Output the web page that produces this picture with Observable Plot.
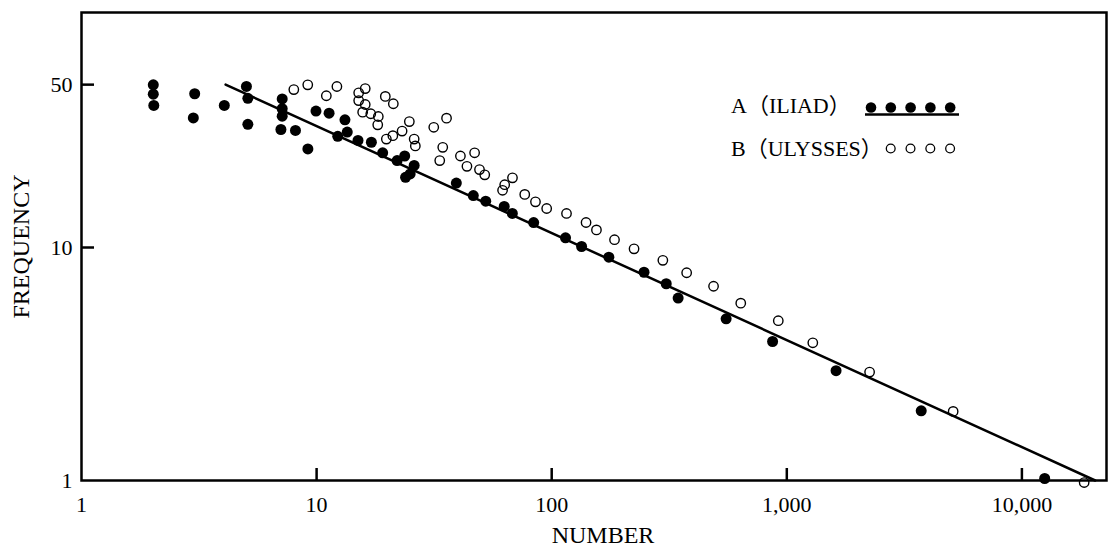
<!DOCTYPE html>
<html>
<head>
<meta charset="utf-8">
<script src="https://cdn.jsdelivr.net/npm/d3@7"></script>
<script src="https://cdn.jsdelivr.net/npm/@observablehq/plot@0.6"></script>
<style>
  html, body { margin: 0; padding: 0; background: #fff; }
  #wrap { position: relative; width: 1119px; height: 549px; }
  #wrap svg { display: block; }
  #legend { position: absolute; left: 0; top: 0; pointer-events: none; }
</style>
</head>
<body>
<div id="wrap"></div>
<script>
// ---- data ----
const iliadNumber = [2.02,2.02,2.03,3.03,2.99,4.05,5.03,5.1,5.1,7.14,7.14,7.14,7.05,8.13,9.18,9.94,11.3,13.2,12.3,13.5,15,17.1,19.1,22,23.7,26,23.9,25,39.3,46.4,52.4,62.8,68,83.8,114.5,134,175,247,307,345,552,870,1620,3730,12500];
const iliadFrequency = [49.9,45.5,40.7,45.7,36,40.7,49.1,43.7,33.8,43.4,39.4,36.6,32.1,31.8,26.5,38.5,37.7,35.3,30,31.3,28.8,28.3,25.5,23.6,24.7,22.5,20,20.7,18.9,16.7,15.8,15,14,12.8,11,10.1,9.09,7.83,6.99,6.07,4.94,3.95,2.96,1.99,1.02];

const ulyssesNumber = [8,9.17,11,12.2,15.1,16.1,15.1,16.1,15.7,17,18.3,18.2,19.6,21.2,19.8,21.1,23.1,24.8,26,26.3,31.5,35.7,34.4,33.4,40.9,47,43.6,49.3,51.9,68.1,63.1,61.8,76.8,85.3,95.2,115.6,140,155,185,224,297,375,488,637,920,1290,2250,5100,18400];
const ulyssesFrequency = [47.6,49.9,44.8,49.1,46.1,48.1,42.7,41.1,38.1,37.5,36.5,33.6,44.5,41.4,29.2,30.2,31.6,34.7,29.2,27.3,32.8,35.9,26.9,23.6,24.7,25.5,22.3,21.6,20.5,19.9,18.6,17.6,16.9,15.7,14.7,14,12.8,11.9,10.8,9.87,8.81,7.79,6.82,5.77,4.85,3.9,2.92,1.98,0.98];

const fitNumber = [4.1, 20500];
const fitFrequency = [50, 1];

const xTicks = [1, 10, 100, 1000, 10000];
const yTicks = [1, 10, 50];
const xTickMarks = [10, 100, 1000, 10000];
const yTickMarks = [10, 50];
const xDomain = [1, 22900];
const yDomain = [1, 102];

const legendLabels = ["A（ILIAD）", "B（ULYSSES）"];

// ---- tables ----
const iliad = iliadNumber.map((n, i) => ({n, f: iliadFrequency[i]}));
const ulysses = ulyssesNumber.map((n, i) => ({n, f: ulyssesFrequency[i]}));
const fit = fitNumber.map((n, i) => ({n, f: fitFrequency[i]}));

const FONT = "'Liberation Serif', 'Noto Sans CJK SC', serif";

const W = 1119, H = 549;
const M = {left: 81, right: 13, top: 12, bottom: 69};
const plotW = W - M.left - M.right;
const plotH = H - M.top - M.bottom;

const chart = Plot.plot({
  width: W,
  height: H,
  marginLeft: M.left,
  marginRight: M.right,
  marginTop: M.top,
  marginBottom: M.bottom,
  style: {fontFamily: FONT, fontSize: "22px", color: "#000", background: "#fff"},
  x: {type: "log", domain: xDomain},
  y: {type: "log", domain: yDomain},
  marks: [
    Plot.axisX({ticks: xTicks, tickSize: 0, tickPadding: 16, tickFormat: d3.format(","), label: null, fontSize: 22}),
    Plot.axisY({ticks: yTicks, tickSize: 0, tickPadding: 9, tickFormat: d => String(d), label: null, fontSize: 22}),
    // inward tick marks
    Plot.tickX(xTickMarks, {x: d => d, stroke: "#000", strokeWidth: 2.5, insetTop: plotH - 12}),
    Plot.tickY(yTickMarks, {y: d => d, stroke: "#000", strokeWidth: 2.5, insetRight: plotW - 13}),
    Plot.frame({stroke: "#000", strokeWidth: 2.5}),
    Plot.line(fit, {x: "n", y: "f", stroke: "#000", strokeWidth: 2.5}),
    Plot.dot(ulysses, {x: "n", y: "f", r: 4.7, fill: "none", stroke: "#000", strokeWidth: 1.4}),
    Plot.dot(iliad, {x: "n", y: "f", r: 5.5, fill: "#000", stroke: "none"}),
    Plot.text(["FREQUENCY"], {frameAnchor: "left", textAnchor: "middle", lineAnchor: "middle", rotate: -90, dx: -60, fontSize: 24, fill: "#000"}),
    Plot.text(["NUMBER"], {frameAnchor: "bottom", textAnchor: "middle", lineAnchor: "middle", dx: 9, dy: 55, fontSize: 24, fill: "#000"})
  ]
});

const wrap = document.getElementById("wrap");
wrap.appendChild(chart);

// ---- legend overlay ----
const lg = d3.select(wrap).append("svg")
  .attr("id", "legend")
  .attr("width", W).attr("height", H)
  .style("font-family", FONT).style("font-size", "22px");

lg.append("text").attr("x", 731).attr("y", 105).attr("dy", "0.35em").text(legendLabels[0]);
lg.append("text").attr("x", 731).attr("y", 148).attr("dy", "0.35em").text(legendLabels[1]);

const filledCount = 5, openCount = 4;
lg.selectAll("circle.f").data(d3.range(filledCount)).join("circle")
  .attr("class", "f").attr("cx", i => 871 + i * 19.8).attr("cy", 107.5).attr("r", 5.3).attr("fill", "#000");
lg.append("line").attr("x1", 865).attr("x2", 959).attr("y1", 114.5).attr("y2", 114.5)
  .attr("stroke", "#000").attr("stroke-width", 2.5);
lg.selectAll("circle.o").data(d3.range(openCount)).join("circle")
  .attr("class", "o").attr("cx", i => 890.7 + i * 19.8).attr("cy", 148.5).attr("r", 4.4)
  .attr("fill", "none").attr("stroke", "#000").attr("stroke-width", 1.3);
</script>
</body>
</html>
